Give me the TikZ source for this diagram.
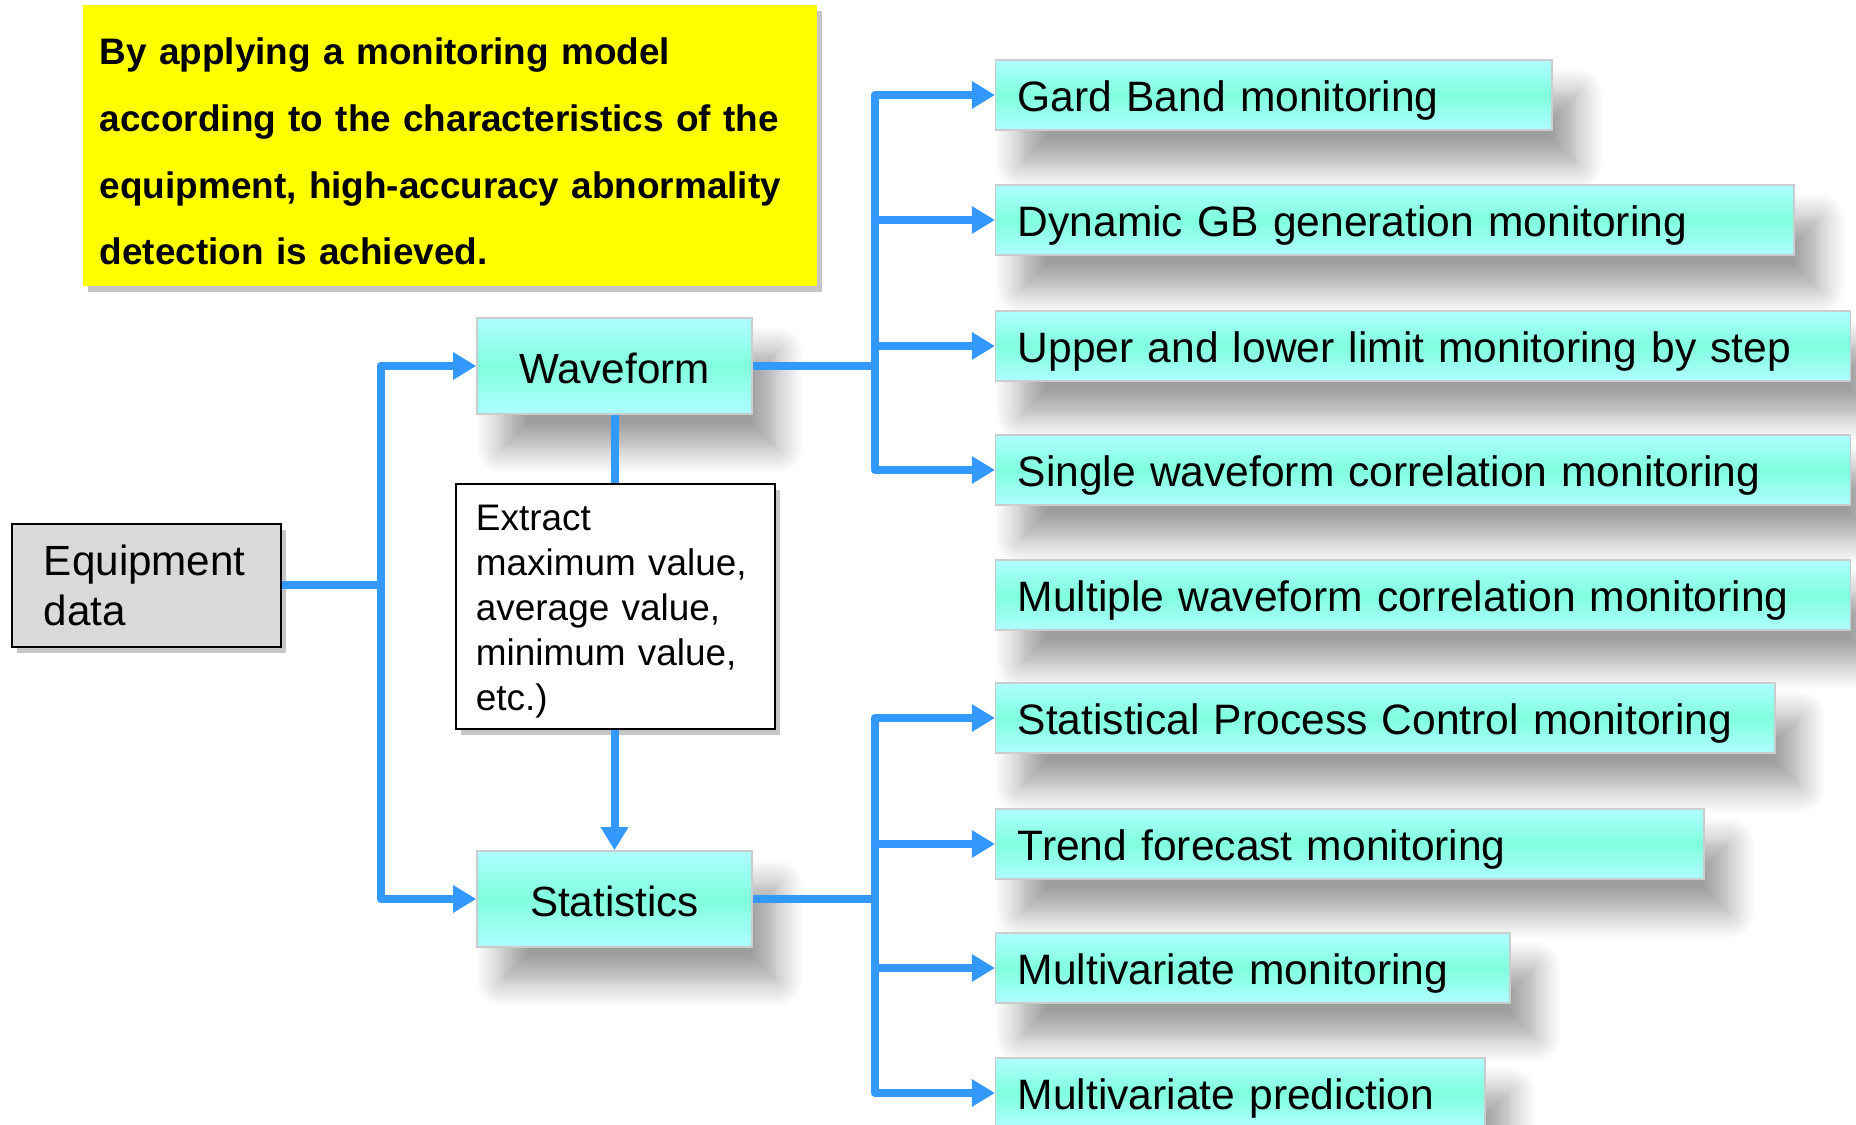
\documentclass[tikz,border=0pt]{standalone}
\usepackage{fontspec}
\setmainfont{Liberation Sans}
\usetikzlibrary{arrows.meta,shadows,shadows.blur,positioning}
\definecolor{linkblue}{RGB}{51,153,255}
\definecolor{noteyellow}{RGB}{255,255,0}
\definecolor{boxmid}{RGB}{128,255,222}
\definecolor{boxlight}{RGB}{175,255,255}
\definecolor{boxrim}{RGB}{200,206,206}
\definecolor{equipgray}{RGB}{217,217,217}
\tikzset{
  basic/.style  = {draw, rectangle, inner ysep=0pt},
  note/.style   = {basic, draw=none, fill=noteyellow, align=left, text width=7cm,
                   inner xsep=0.17cm, minimum height=2.81cm,
                   font=\fontsize{10.5}{19}\selectfont\bfseries,
                   drop shadow={shadow xshift=0.05cm, shadow yshift=-0.06cm, opacity=0.45}},
  equipbox/.style = {basic, thick, fill=equipgray, align=left, text width=2.05cm,
                   inner xsep=0.32cm, minimum height=1.23cm,
                   font=\fontsize{12}{14.2}\selectfont,
                   drop shadow={shadow xshift=0.05cm, shadow yshift=-0.06cm, opacity=0.45}},
  extractbox/.style = {basic, fill=white, align=left, text width=2.79cm,
                   inner xsep=0.2cm, minimum height=2.45cm,
                   font=\fontsize{10.5}{12.8}\selectfont,
                   drop shadow={shadow xshift=0.05cm, shadow yshift=-0.06cm, opacity=0.45}},
  cyanbox/.style = {basic, draw=boxrim, thin, top color=boxlight, bottom color=boxlight,
                   middle color=boxmid,
                   blur shadow={shadow xshift=0.25cm, shadow yshift=-0.34cm,
                                shadow blur radius=0.26cm, shadow opacity=38,
                                shadow blur steps=12}},
  databox/.style = {cyanbox, minimum width=2.75cm, minimum height=0.96cm,
                   text height=10pt, text depth=0pt,
                   font=\fontsize{12}{14}\selectfont},
  monbox/.style  = {cyanbox, anchor=west, align=left, text width=#1,
                   inner xsep=0.22cm, minimum height=0.70cm,
                   text height=9.4pt, text depth=0pt,
                   font=\fontsize{12.1}{14}\selectfont},
  link/.style    = {draw=linkblue, line width=0.08cm, line join=round},
  arrowlink/.style = {link, -{Triangle[length=0.23cm, width=0.26cm]}}
}

\begin{document}
\begin{tikzpicture}[x=0.01cm, y=-0.01cm]
\useasboundingbox (0,0) rectangle (1856,1125);

\node[note] (summary) at (450,145.5) {\rule{0pt}{11pt}By applying a monitoring model\\
  according to the characteristics of the\\
  equipment, high-accuracy abnormality\\
  detection is achieved.};

\node[equipbox] (equip) at (146.5,585.5) {Equipment\\data};
\node[databox] (wave) at (614.5,366) {Waveform};
\node[databox] (stats) at (614.5,899) {Statistics};
\node[extractbox] (extract) at (615.5,606.5) {\rule{0pt}{10.1pt}Extract\\maximum value,\\average value,\\minimum value,\\etc.)};

\node[monbox=5.12cm] (gband) at (995,95) {Gard Band monitoring};
\node[monbox=7.54cm] (dyngb) at (995,220) {Dynamic GB generation monitoring};
\node[monbox=8.10cm] (limit) at (995,346) {Upper and lower limit monitoring by step};
\node[monbox=8.10cm] (single) at (995,470) {Single waveform correlation monitoring};
\node[monbox=8.10cm] (multiple) at (995,595) {Multiple waveform correlation monitoring};
\node[monbox=7.35cm] (spc) at (995,718) {Statistical Process Control monitoring};
\node[monbox=6.64cm] (trend) at (995,844) {Trend forecast monitoring};
\node[monbox=4.70cm] (mvmon) at (995,968) {Multivariate monitoring};
\node[monbox=4.45cm] (mvpred) at (995,1093) {Multivariate prediction};

\coordinate (eqsplit) at ([xshift=0.98cm]equip.east);
\coordinate (wsplit) at ([xshift=1.22cm]wave.east);
\coordinate (ssplit) at ([xshift=1.22cm]stats.east);

\draw[link] (equip.east) -- (eqsplit);
\draw[arrowlink] (eqsplit) |- (wave.west);
\draw[arrowlink] (eqsplit) |- (stats.west);

\draw[link] (wave.south) -- (wave.south |- extract.north);
\draw[arrowlink] (stats.north |- extract.south) -- (stats.north);

\draw[link] (wave.east) -- (wsplit);
\draw[arrowlink] (wsplit) |- (gband.west);
\draw[arrowlink] (wsplit) |- (dyngb.west);
\draw[arrowlink] (wsplit) |- (limit.west);
\draw[arrowlink] (wsplit) |- (single.west);

\draw[link] (stats.east) -- (ssplit);
\draw[arrowlink] (ssplit) |- (spc.west);
\draw[arrowlink] (ssplit) |- (trend.west);
\draw[arrowlink] (ssplit) |- (mvmon.west);
\draw[arrowlink] (ssplit) |- (mvpred.west);
\end{tikzpicture}
\end{document}
